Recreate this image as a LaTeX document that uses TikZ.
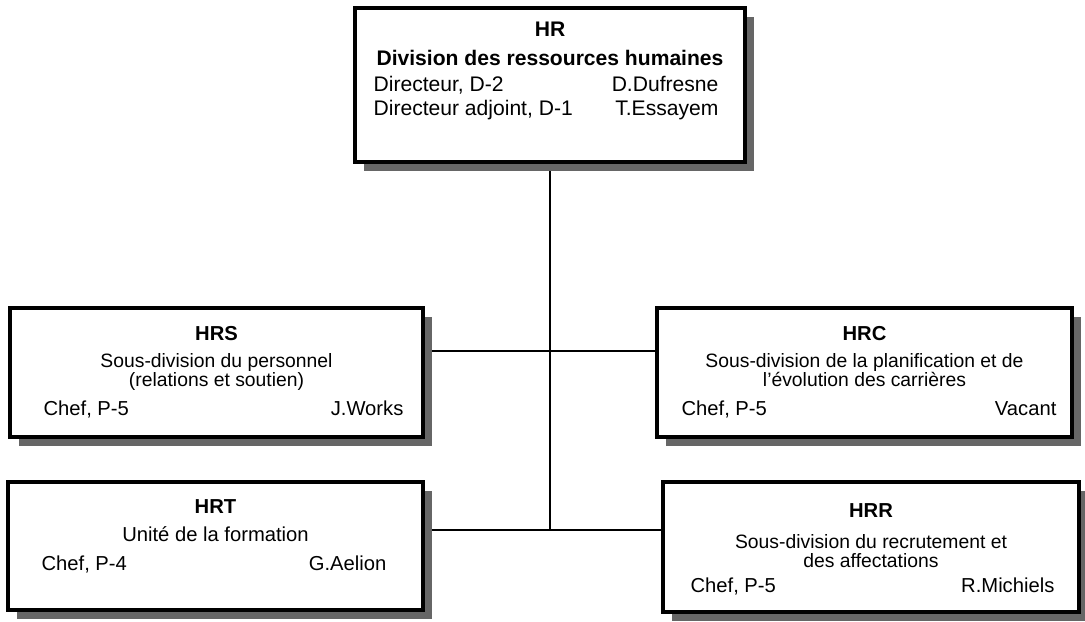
\documentclass[tikz,border=0pt]{standalone}
\usepackage{fontspec}
\setmainfont{Liberation Sans}
\usepackage{tikz}
\usetikzlibrary{positioning,shadows,backgrounds}

\begin{document}
\begin{tikzpicture}[
    unit/.style={draw, line width=2pt, fill=white, inner sep=0pt,
                 drop shadow={shadow xshift=0.18cm, shadow yshift=-0.18cm,
                              fill=black!60, opacity=1}},
    ttl/.style={font=\fontsize{11.5}{13}\selectfont\bfseries,
                anchor=base, inner sep=0pt},
    bigttl/.style={ttl, font=\fontsize{12}{14}\selectfont\bfseries},
    txt/.style={font=\fontsize{11.5}{13}\selectfont,
                anchor=base, inner sep=0pt},
    dsc/.style={txt, font=\fontsize{11}{12}\selectfont},
    lft/.style={txt, anchor=base west},
    rgt/.style={txt, anchor=base east},
    big/.style={font=\fontsize{12}{14}\selectfont},
    link/.style={line width=1.6pt},
]
\useasboundingbox (0,0) rectangle (21.7,-12.44);

% HR division
\node[unit, minimum width=7.8cm, minimum height=3.08cm] (hr) at (11.0,-1.70) {};
\node[bigttl] (hrcode) at ([yshift=-0.60cm]hr.north) {HR};
\node[bigttl] (hrname) at ([yshift=-1.18cm]hr.north) {Division des ressources humaines};
\node[lft, big] (hrpost1) at ([xshift=0.40cm, yshift=-1.70cm]hr.north west) {Directeur, D-2};
\node[rgt, big] (hrhead1) at ([xshift=-0.56cm, yshift=-1.70cm]hr.north east) {D.Dufresne};
\node[lft, big] (hrpost2) at ([xshift=0.40cm, yshift=-2.18cm]hr.north west) {Directeur adjoint, D-1};
\node[rgt, big] (hrhead2) at ([xshift=-0.56cm, yshift=-2.18cm]hr.north east) {T.Essayem};

% HRS
\node[unit, minimum width=8.26cm, minimum height=2.58cm] (hrs) at (4.33,-7.45) {};
\node[ttl] (hrscode) at ([yshift=-0.68cm]hrs.north) {HRS};
\node[dsc] (hrsname1) at ([yshift=-1.22cm]hrs.north) {Sous-division du personnel};
\node[dsc] (hrsname2) at ([yshift=-1.60cm]hrs.north) {(relations et soutien)};
\node[lft] (hrspost) at ([xshift=0.70cm, yshift=-2.18cm]hrs.north west) {Chef, P-5};
\node[rgt] (hrshead) at ([xshift=-0.42cm, yshift=-2.18cm]hrs.north east) {J.Works};

% HRC
\node[unit, minimum width=8.3cm, minimum height=2.58cm] (hrc) at (17.29,-7.45) {};
\node[ttl] (hrccode) at ([yshift=-0.68cm]hrc.north) {HRC};
\node[dsc] (hrcname1) at ([yshift=-1.22cm]hrc.north) {Sous-division de la planification et de};
\node[dsc] (hrcname2) at ([yshift=-1.60cm]hrc.north) {l'évolution des carrières};
\node[lft] (hrcpost) at ([xshift=0.52cm, yshift=-2.18cm]hrc.north west) {Chef, P-5};
\node[rgt] (hrchead) at ([xshift=-0.34cm, yshift=-2.18cm]hrc.north east) {Vacant};

% HRT
\node[unit, minimum width=8.3cm, minimum height=2.56cm] (hrt) at (4.31,-10.92) {};
\node[ttl] (hrtcode) at ([yshift=-0.66cm]hrt.north) {HRT};
\node[txt] (hrtname) at ([yshift=-1.22cm]hrt.north) {Unité de la formation};
\node[lft] (hrtpost) at ([xshift=0.70cm, yshift=-1.80cm]hrt.north west) {Chef, P-4};
\node[rgt] (hrthead) at ([xshift=-0.76cm, yshift=-1.80cm]hrt.north east) {G.Aelion};

% HRR
\node[unit, minimum width=8.32cm, minimum height=2.60cm] (hrr) at (17.42,-10.94) {};
\node[ttl] (hrrcode) at ([yshift=-0.74cm]hrr.north) {HRR};
\node[dsc] (hrrname1) at ([yshift=-1.36cm]hrr.north) {Sous-division du recrutement et};
\node[dsc] (hrrname2) at ([yshift=-1.74cm]hrr.north) {des affectations};
\node[lft] (hrrpost) at ([xshift=0.58cm, yshift=-2.24cm]hrr.north west) {Chef, P-5};
\node[rgt] (hrrhead) at ([xshift=-0.52cm, yshift=-2.24cm]hrr.north east) {R.Michiels};

% Links
\coordinate (jup) at (hr.south |- 0,-7.02);
\coordinate (jlow) at (hr.south |- 0,-10.60);
\begin{scope}[on background layer]
\draw[link] (hr.south) -- (jlow);
\draw[link] (hrs.east |- jup) -- (hrc.west |- jup);
\draw[link] (hrt.east |- jlow) -- (hrr.west |- jlow);
\end{scope}

\end{tikzpicture}
\end{document}
